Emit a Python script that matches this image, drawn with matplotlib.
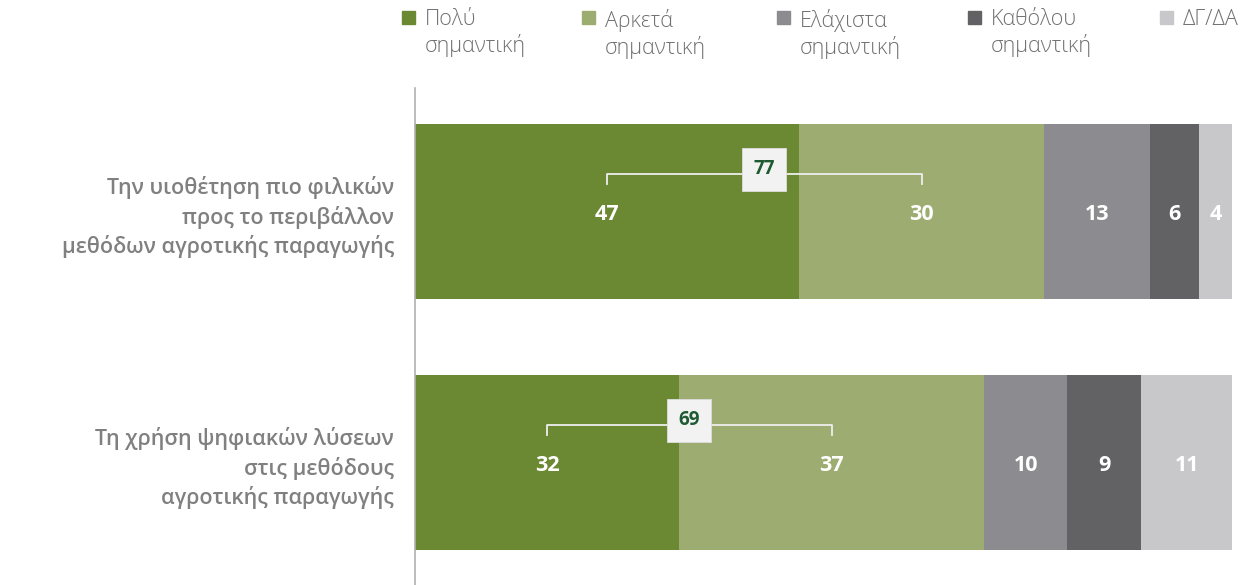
import matplotlib.pyplot as plt
import matplotlib.patches as mpatches
import numpy as np

plt.rcParams["font.family"] = ["Open Sans", "DejaVu Sans"]

# data
categories = [
    "Την υιοθέτηση πιο φιλικών\nπρος το περιβάλλον\nμεθόδων αγροτικής παραγωγής",
    "Τη χρήση ψηφιακών λύσεων\nστις μεθόδους\nαγροτικής παραγωγής",
]
series = ["Πολύ\nσημαντική", "Αρκετά\nσημαντική", "Ελάχιστα\nσημαντική",
          "Καθόλου\nσημαντική", "ΔΓ/ΔΑ"]
values = np.array([
    [47, 30, 13, 6, 4],
    [32, 37, 10, 9, 11],
])
totals = [77, 69]

colors = ["#6b8832", "#9dac70", "#8c8c90", "#626264", "#c8c8ca"]

fig = plt.figure(figsize=(12.55, 5.85), dpi=100)
ax = fig.add_axes([415 / 1255, 0, (1232 - 415) / 1255, 1 - 88 / 585])

bar_h = 175 / 251
widths = values / values.sum(axis=1, keepdims=True) * 100
for i in range(len(categories)):
    left = 0
    for j in range(len(series)):
        w = widths[i, j]
        ax.barh(i, w, left=left, height=bar_h, color=colors[j], edgecolor="none")
        ax.text(left + w / 2, i + 0.01, str(values[i, j]), ha="center", va="center",
                color="white", fontsize=15.5, fontweight="bold")
        left += w
    # bracket over first two segments
    c1 = widths[i, 0] / 2
    c2 = widths[i, 0] + widths[i, 1] / 2
    yb = i - 0.148
    ax.plot([c1, c1, c2, c2], [yb + 0.04, yb, yb, yb + 0.04], color="#eeeeee",
            lw=1.3, solid_joinstyle="round")
    ax.text((c1 + c2) / 2, yb - 0.02, str(totals[i]), ha="center", va="center",
            color="#1e5a32", fontsize=13.5, fontweight="bold",
            bbox=dict(boxstyle="square,pad=0.6", facecolor="#f2f2f2",
                      edgecolor="#dddddd", linewidth=0.6))

ax.set_xlim(0, 100)
ax.set_ylim(1 + 122.5 / 251, -123.5 / 251)
for s in ["top", "right", "bottom"]:
    ax.spines[s].set_visible(False)
ax.spines["left"].set_color("#b0b0b0")
ax.spines["left"].set_linewidth(1.2)
ax.set_xticks([])
ax.set_yticks([0, 1])
ax.set_yticklabels(categories, fontsize=15.5, color="#808080", fontweight="semibold",
                   linespacing=1.35)
ax.tick_params(axis="y", length=0, pad=15)

# legend
leg_x = [402, 582, 777, 968, 1160]
for x, lab, col in zip(leg_x, series, colors):
    fig.patches.append(mpatches.Rectangle((x / 1255, 1 - 24 / 585), 13 / 1255, 13 / 585,
                                          transform=fig.transFigure, color=col))
    fig.text((x + 23) / 1255, 1 - 9 / 585, lab, ha="left", va="top", fontsize=15.5,
             color="#707070", fontweight="light", linespacing=1.2)

fig.savefig("out.png", dpi=100)
